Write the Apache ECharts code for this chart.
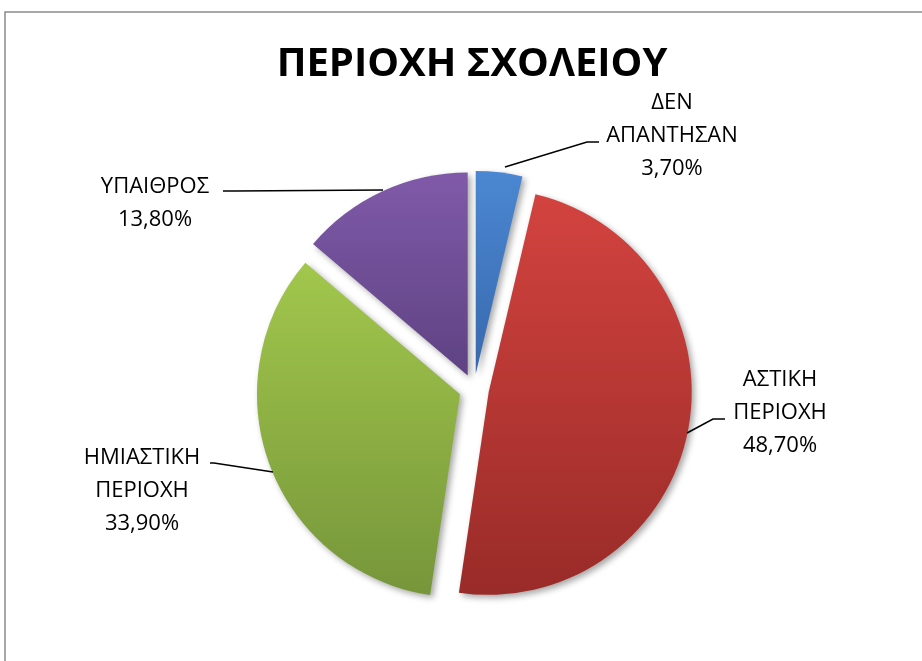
<!DOCTYPE html>
<html>
<head>
<meta charset="utf-8">
<script src="https://cdn.jsdelivr.net/npm/echarts@6/dist/echarts.min.js"></script>
<style>html,body{margin:0;padding:0;background:#fff;}#c{width:922px;height:661px;}</style>
</head>
<body>
<div id="c"></div>
<script>
const titleText = 'ΠΕΡΙΟΧΗ ΣΧΟΛΕΙΟΥ';
const categories = ['ΔΕΝ\nΑΠΑΝΤΗΣΑΝ', 'ΑΣΤΙΚΗ\nΠΕΡΙΟΧΗ', 'ΗΜΙΑΣΤΙΚΗ\nΠΕΡΙΟΧΗ', 'ΥΠΑΙΘΡΟΣ'];
const values = [3.7, 48.7, 33.9, 13.8];
const valueLabels = ['3,70%', '48,70%', '33,90%', '13,80%'];
const topColors = ['#4b87d2', '#d3433f', '#a2c74c', '#805aa9'];
const bottomColors = ['#3869ad', '#992b28', '#76963a', '#5e4282'];

// label placement (center x, center y) and leader line points
const labelPos = [
  {x: 672, y: 136, line: [[505, 167], [587, 142], [599, 142]]},
  {x: 780, y: 413, line: [[687, 433], [713, 419], [725, 419]]},
  {x: 142, y: 491, line: [[273, 472], [214, 463], [210, 463]]},
  {x: 155, y: 203, line: [[383, 190], [235, 191], [223, 191]]}
];

const CENTER = [474, 389];
const RADIUS = 203;

const sliceData = categories.map((c, i) => ({
  name: c,
  value: values[i],
  selected: true,
  itemStyle: {
    color: {type: 'linear', x: 0, y: 0, x2: 0, y2: 1,
      colorStops: [{offset: 0, color: topColors[i]}, {offset: 1, color: bottomColors[i]}]}
  }
}));

const labelData = categories.map((c, i) => ({
  name: c,
  value: values[i],
  label: {formatter: c + '\n' + valueLabels[i]}
}));

const chart = echarts.init(document.getElementById('c'));
chart.setOption({
  animation: false,
  backgroundColor: '#ffffff',
  title: {
    text: titleText,
    left: 467,
    textAlign: 'center',
    top: 40,
    textStyle: {fontFamily: 'Open Sans', fontWeight: 'bold', fontSize: 40, color: '#000'}
  },
  graphic: [{
    type: 'rect', shape: {x: 5, y: 12, width: 960, height: 700},
    style: {fill: 'none', stroke: '#8c8c8c', lineWidth: 1.5}, silent: true, z: -1
  }],
  series: [{
    type: 'pie',
    center: CENTER,
    radius: RADIUS,
    startAngle: 90,
    clockwise: true,
    selectedMode: 'multiple',
    selectedOffset: 15,
    silent: true,
    itemStyle: {shadowBlur: 6, shadowOffsetX: 3, shadowOffsetY: 3, shadowColor: 'rgba(0,0,0,0.35)'},
    label: {show: false},
    labelLine: {show: false},
    emphasis: {disabled: true},
    data: sliceData
  }, {
    type: 'pie',
    center: CENTER,
    radius: RADIUS,
    startAngle: 90,
    clockwise: true,
    silent: true,
    z: 3,
    avoidLabelOverlap: false,
    itemStyle: {color: 'rgba(0,0,0,0)', borderWidth: 0},
    label: {
      show: true, position: 'outside', color: '#000',
      fontFamily: 'Open Sans', fontSize: 22, lineHeight: 33, align: 'center'
    },
    labelLine: {show: true, lineStyle: {color: '#000', width: 1.5}, length: 10, length2: 10},
    emphasis: {disabled: true},
    labelLayout: function (p) {
      const lp = labelPos[p.dataIndex];
      return {x: lp.x, y: lp.y, align: 'center', verticalAlign: 'middle', labelLinePoints: lp.line};
    },
    data: labelData
  }]
});
</script>
</body>
</html>
